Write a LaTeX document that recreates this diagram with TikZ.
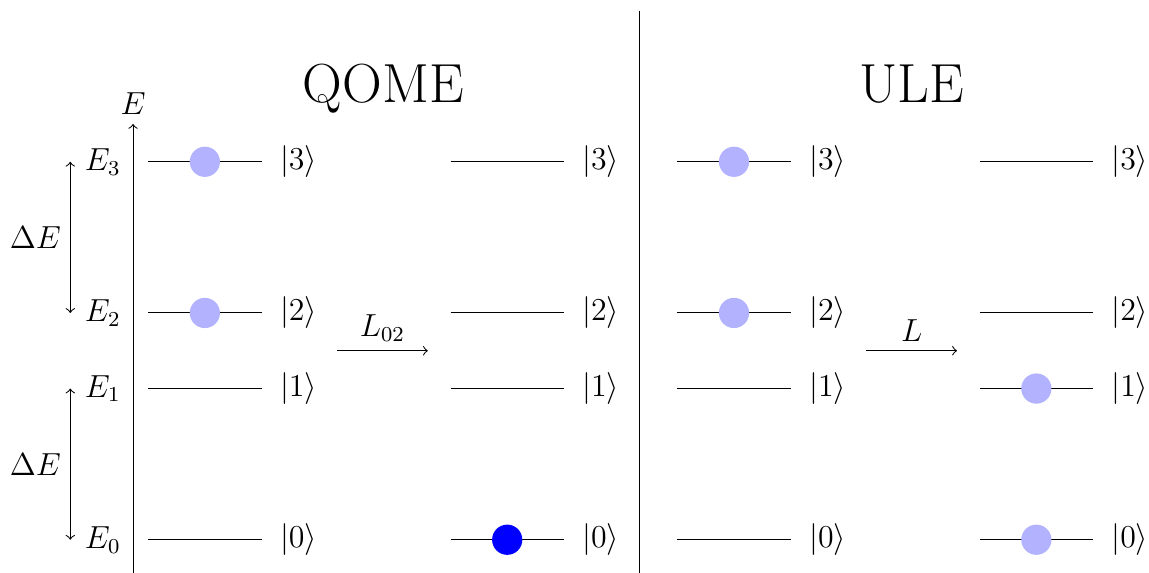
\documentclass[tikz,border=0pt]{standalone}
\begin{document}
\begin{tikzpicture}[every node/.style={font=\large}]
\useasboundingbox (-1.76,-0.44) rectangle (13.44,7.14);
\tikzset{
  lvl/.style={line width=0.4pt},
  occ/.style={circle, fill=blue!30, inner sep=0pt, minimum size=0.4cm},
  occdark/.style={circle, fill=blue, inner sep=0pt, minimum size=0.4cm},
  ket/.style={right},
  title/.style={font=\fontsize{20.74}{25}\selectfont}
}
% axis
\coordinate (axb) at (0,-0.44);
\coordinate (axt) at (0,5.5);
\draw[->] (axb) -- (axt) node[above] (Elab) {$E$};
% divider
\coordinate (dvt) at (6.7,7.0);
\coordinate (dvb) at (6.7,-0.44);
\draw (dvt) -- (dvb);
% energy labels
\node[left] (E3) at (-0.04,5) {$E_3$};
\node[left] (E2) at (-0.04,3) {$E_2$};
\node[left] (E1) at (-0.04,2) {$E_1$};
\node[left] (E0) at (-0.04,0) {$E_0$};
% Delta E arrows
\coordinate (d3) at (-0.83,5);
\coordinate (d2) at (-0.83,3);
\coordinate (d1) at (-0.83,2);
\coordinate (d0) at (-0.83,0);
\draw[<->] (d3) -- (d2) node[midway,left] (dEa) {$\Delta E$};
\draw[<->] (d1) -- (d0) node[midway,left] (dEb) {$\Delta E$};
% levels
\foreach \c/\xo in {a/0,b/4,c/7,d/11}{
  \foreach \n/\y in {0/0,1/2,2/3,3/5}{
    \coordinate (\c l\n) at (\xo+0.2,\y);
    \coordinate (\c r\n) at (\xo+1.7,\y);
    \coordinate (\c m\n) at (\xo+0.95,\y);
    \draw[lvl] (\c l\n) -- (\c r\n);
    \node[ket] (\c k\n) at (\xo+1.82,\y) {$|\n\rangle$};
  }
}
% occupations
\node[occ] (o1) at (am3) {};
\node[occ] (o2) at (am2) {};
\node[occdark] (o3) at (bm0) {};
\node[occ] (o4) at (cm3) {};
\node[occ] (o5) at (cm2) {};
\node[occ] (o6) at (dm1) {};
\node[occ] (o7) at (dm0) {};
% arrows
\coordinate (La) at (2.7,2.5);
\coordinate (Lb) at (3.9,2.5);
\draw[->] (La) -- (Lb) node[midway,above] (L02) {$L_{02}$};
\coordinate (Lc) at (9.7,2.5);
\coordinate (Ld) at (10.9,2.5);
\draw[->] (Lc) -- (Ld) node[midway,above] (L) {$L$};
% titles
\node[title, anchor=base] (qome) at (3.31,5.79) {QOME};
\node[title, anchor=base] (ule) at (10.3,5.79) {ULE};
\end{tikzpicture}
\end{document}
